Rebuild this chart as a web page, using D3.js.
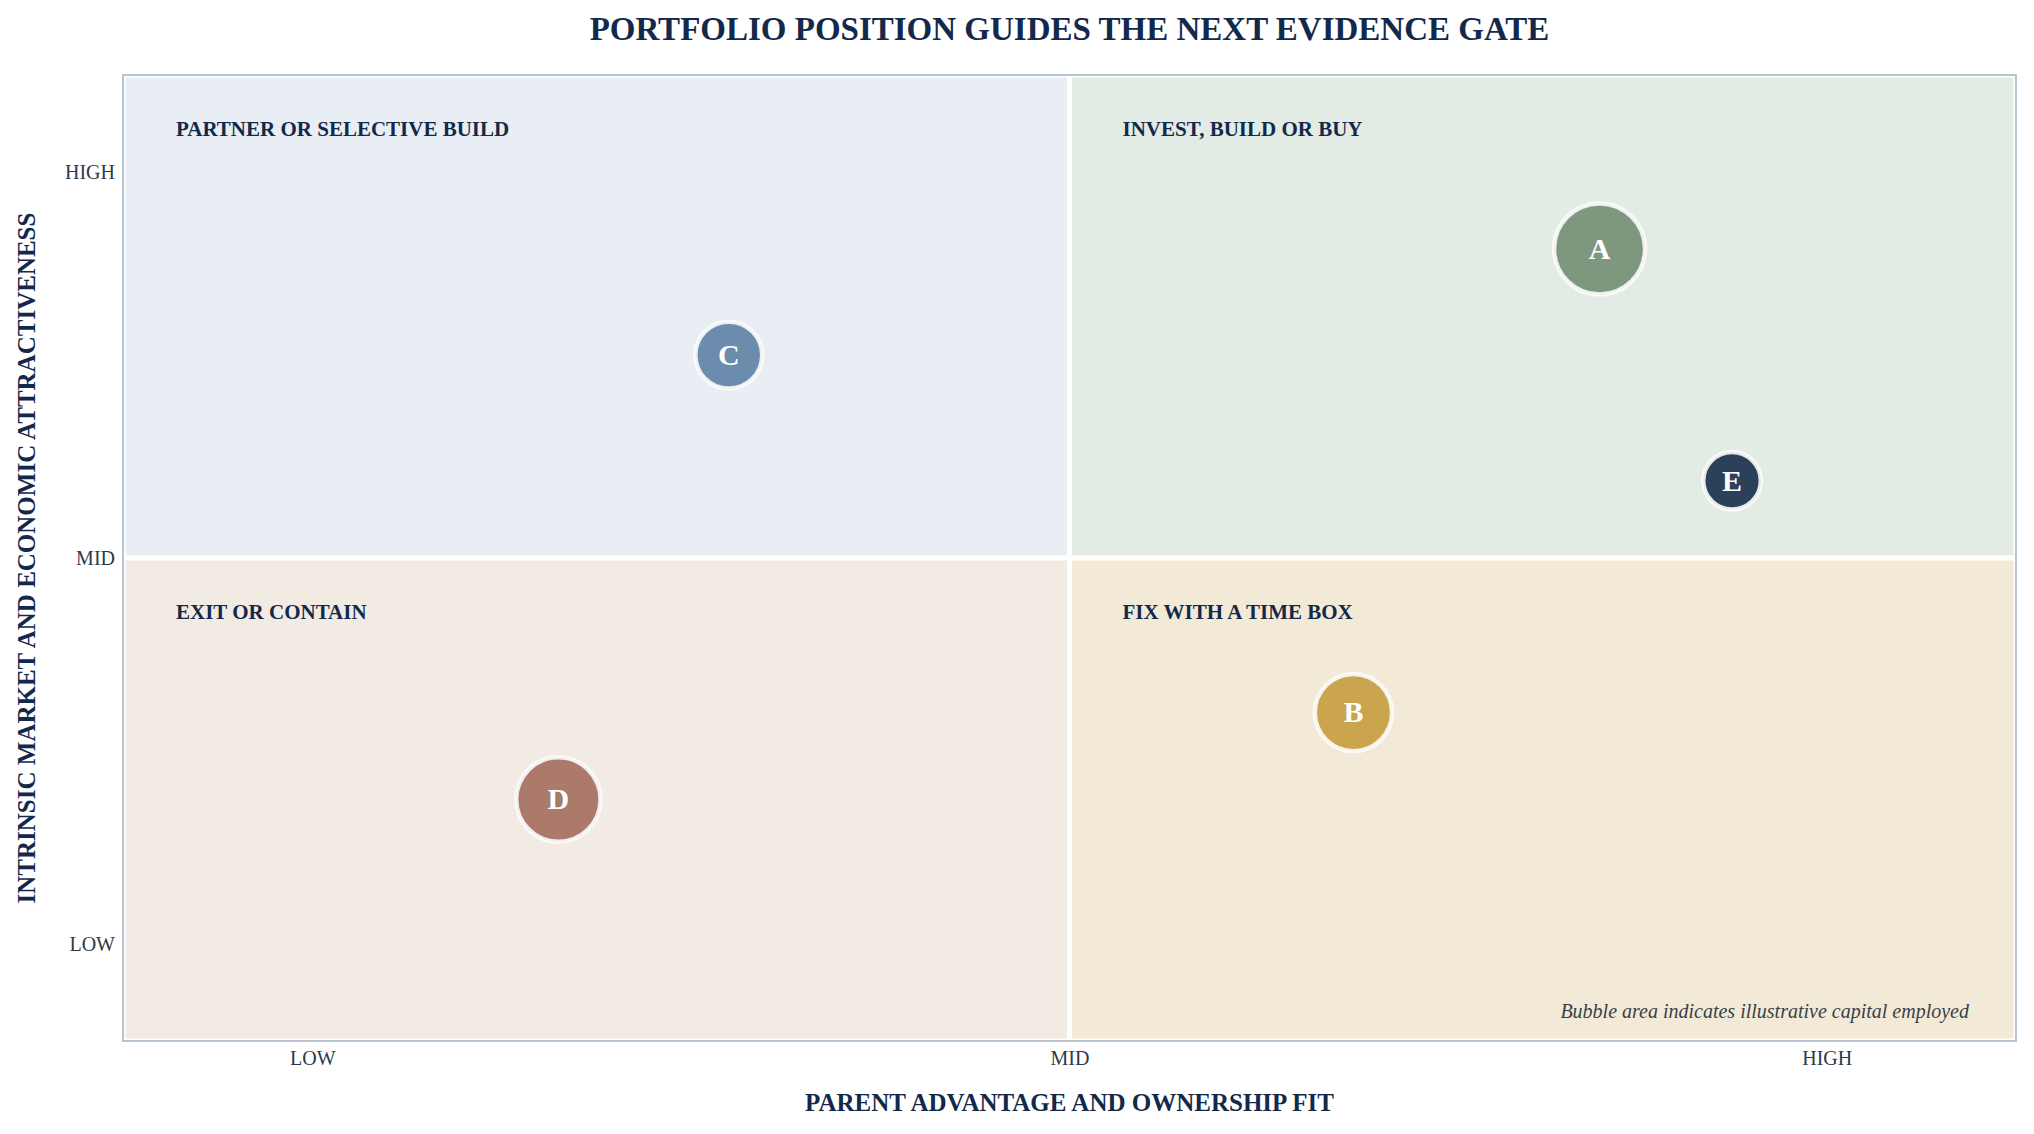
<!DOCTYPE html>
<html>
<head>
<meta charset="utf-8">
<script src="https://cdn.jsdelivr.net/npm/d3@7"></script>
<style>
  body { margin: 0; background: #fff; }
  text { font-family: "Liberation Serif", "Times New Roman", serif; }
</style>
</head>
<body>
<script>
// data
var units = ["A", "B", "C", "D", "E"];
var fit = [2.70, 2.375, 1.55, 1.325, 2.875];        // parent advantage (x)
var attract = [2.80, 1.60, 2.525, 1.375, 2.20];     // market attractiveness (y)
var capital = [250, 180, 135, 215, 100];            // illustrative capital employed
var unitColors = ["#7e987f", "#cba44e", "#6b8cad", "#ac7a6b", "#2b4159"];

var tickValues = [1, 2, 3];
var tickLabels = ["LOW", "MID", "HIGH"];

var quadrants = ["PARTNER OR SELECTIVE BUILD", "INVEST, BUILD OR BUY", "EXIT OR CONTAIN", "FIX WITH A TIME BOX"];
var quadColors = ["#e9eef5", "#e3ece4", "#f2ebe4", "#f2ead6"];

var width = 2034,
	height = 1134;
var margin = {top: 75, right: 18, bottom: 93, left: 123};
var navy = "#13294b";

var svg = d3.select("body").append("svg")
	.attr("width", width)
	.attr("height", height);

var x = d3.scaleLinear().domain([0.75, 3.25]).range([margin.left, width - margin.right]);
var y = d3.scaleLinear().domain([0.75, 3.25]).range([height - margin.bottom, margin.top]);
var r = d3.scaleSqrt().domain([0, d3.max(capital)]).range([0, 45.5]);

//quadrant backgrounds, white stroke makes the dividers
var qx = [[0.75, 2], [2, 3.25], [0.75, 2], [2, 3.25]];
var qy = [[2, 3.25], [2, 3.25], [0.75, 2], [0.75, 2]];

svg.selectAll("rect.quad").data(quadrants).enter().append("rect")
	.attr("class", "quad")
	.attr("x", function(d, i){ return x(qx[i][0]); })
	.attr("y", function(d, i){ return y(qy[i][1]); })
	.attr("width", function(d, i){ return x(qx[i][1]) - x(qx[i][0]); })
	.attr("height", function(d, i){ return y(qy[i][0]) - y(qy[i][1]); })
	.attr("fill", function(d, i){ return quadColors[i]; })
	.attr("stroke", "#fff")
	.attr("stroke-width", 5);

//frame
svg.append("rect")
	.attr("x", x(0.75))
	.attr("y", y(3.25))
	.attr("width", x(3.25) - x(0.75))
	.attr("height", y(0.75) - y(3.25))
	.attr("fill", "none")
	.attr("stroke", "#b8c4d2")
	.attr("stroke-width", 2);

//quadrant labels
svg.selectAll("text.qlab").data(quadrants).enter().append("text")
	.attr("class", "qlab")
	.attr("x", function(d, i){ return x(qx[i][0]) + 53; })
	.attr("y", function(d, i){ return y(qy[i][1]) + 61; })
	.attr("font-size", 21)
	.attr("font-weight", "bold")
	.attr("fill", navy)
	.text(function(d){ return d; });

//axes
var xAxis = svg.append("g")
	.attr("transform", "translate(0," + (height - margin.bottom) + ")")
	.call(d3.axisBottom(x).tickValues(tickValues).tickSize(0).tickPadding(10)
		.tickFormat(function(d, i){ return tickLabels[i]; }));
var yAxis = svg.append("g")
	.attr("transform", "translate(" + margin.left + ",0)")
	.call(d3.axisLeft(y).tickValues(tickValues).tickSize(0).tickPadding(8)
		.tickFormat(function(d, i){ return tickLabels[i]; }));
[xAxis, yAxis].forEach(function(a){
	a.select(".domain").remove();
	a.selectAll("text")
		.attr("font-family", "Liberation Serif, serif")
		.attr("font-size", 20)
		.attr("fill", "#2c3a4a");
});

//bubbles
var bubbles = svg.selectAll("g.unit").data(units).enter().append("g")
	.attr("class", "unit")
	.attr("transform", function(d, i){ return "translate(" + x(fit[i]) + "," + y(attract[i]) + ")"; });

bubbles.append("circle")
	.attr("r", function(d, i){ return r(capital[i]); })
	.attr("fill", function(d, i){ return unitColors[i]; })
	.attr("stroke", "#fbfbfa")
	.attr("stroke-opacity", 0.9)
	.attr("stroke-width", 4.5);

bubbles.append("text")
	.attr("text-anchor", "middle")
	.attr("dy", ".33em")
	.attr("font-size", 30)
	.attr("font-weight", "bold")
	.attr("fill", "#fff")
	.text(function(d){ return d; });

//note
svg.append("text")
	.attr("x", x(3.25) - 47)
	.attr("y", 1018)
	.attr("text-anchor", "end")
	.attr("font-size", 20)
	.attr("font-style", "italic")
	.attr("fill", "#3a3f48")
	.text("Bubble area indicates illustrative capital employed");

//titles
svg.append("text")
	.attr("x", x(2))
	.attr("y", 40)
	.attr("text-anchor", "middle")
	.attr("font-size", 33)
	.attr("font-weight", "bold")
	.attr("fill", navy)
	.text("PORTFOLIO POSITION GUIDES THE NEXT EVIDENCE GATE");

svg.append("text")
	.attr("x", x(2))
	.attr("y", 1111)
	.attr("text-anchor", "middle")
	.attr("font-size", 25)
	.attr("font-weight", "bold")
	.attr("fill", navy)
	.text("PARENT ADVANTAGE AND OWNERSHIP FIT");

svg.append("text")
	.attr("transform", "translate(35," + y(2) + ") rotate(-90)")
	.attr("text-anchor", "middle")
	.attr("font-size", 25)
	.attr("font-weight", "bold")
	.attr("fill", navy)
	.text("INTRINSIC MARKET AND ECONOMIC ATTRACTIVENESS");
</script>
</body>
</html>
